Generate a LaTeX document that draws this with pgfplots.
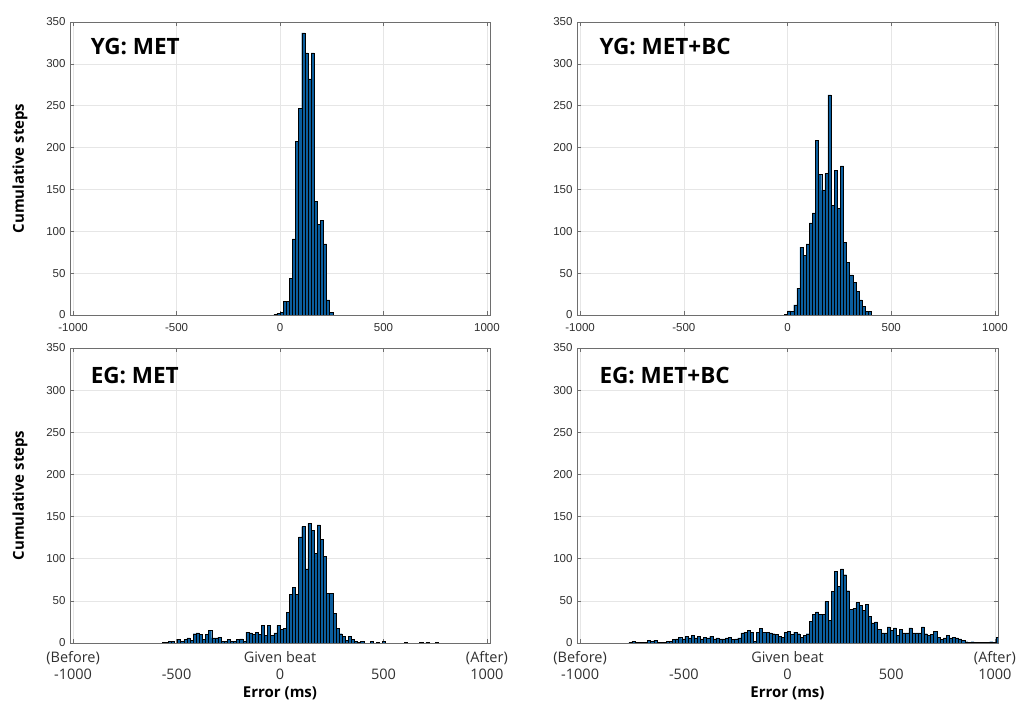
\documentclass[border=0pt]{standalone}
\usepackage{fontspec}
\setmainfont{Liberation Sans}
\newfontfamily\labelf{Open Sans}
\newfontfamily\tickf{Liberation Sans}
\usepackage{pgfplots}
\pgfplotsset{compat=1.18}
\definecolor{barblue}{HTML}{0B5E9E}
\definecolor{gridgray}{HTML}{E6E6E6}
\definecolor{boxgray}{HTML}{6E6E6E}
\definecolor{tickcol}{HTML}{303030}
\tikzset{ttl/.style={anchor=west, font=\labelf\bfseries\fontsize{22.5}{26}\selectfont, inner sep=0pt}}
\pgfplotsset{
  panel/.style={
    scale only axis,
    xmin=-1015, xmax=1015, ymin=0, ymax=350,
    xtick={-1000,-500,0,500,1000},
    ytick={0,50,100,150,200,250,300,350},
    yticklabels={0,50,100,150,200,250,300,350},
    grid=major,
    major grid style={gridgray, line width=0.6pt},
    axis line style={boxgray, line width=0.6pt},
    tick align=inside,
    major tick length=4pt,
    tick style={boxgray, line width=0.5pt},
    yticklabel style={font=\tickf\fontsize{11.5}{13}\selectfont, text=tickcol, xshift=-1pt},
    every axis y label/.style={at={(axis description cs:-0.119,0.5)}, rotate=90, anchor=center,
      font=\labelf\bfseries\fontsize{15}{18}\selectfont},
  },
  toppanel/.style={
    panel,
    xticklabels={-1000,-500,0,500,1000},
    xticklabel style={font=\tickf\fontsize{11.5}{13}\selectfont, text=tickcol, yshift=-4.5pt},
  },
  botpanel/.style={
    panel,
    xticklabels={{\strut(Before)\\-1000},{\strut\\-500},{\strut Given beat\\0},{\strut\\500},{\strut(After)\\1000}},
    xticklabel style={align=center, font=\labelf\fontsize{14.5}{17}\selectfont, text=tickcol, yshift=-4pt},
    every axis x label/.style={at={(axis description cs:0.5,-0.172)}, anchor=center,
      font=\labelf\bfseries\fontsize{15}{18}\selectfont},
  },
  histo/.style={ybar, bar width=15, bar shift=0pt, fill=barblue, draw=black, line width=0.45pt},
}
\begin{document}
\begin{tikzpicture}
\path[use as bounding box] (0pt,0pt) rectangle (1023pt,704pt);
% ---------------- YG: MET
\begin{axis}[toppanel, at={(70pt,389pt)}, anchor=south west, width=420pt, height=293pt,
  ylabel={Cumulative steps}]
\addplot[histo] coordinates {
(-22.5,1) (-7.5,2) (7.5,3) (22.5,16) (37.5,16) (52.5,44) (67.5,91) (82.5,207)
(97.5,247) (112.5,337) (127.5,313) (142.5,282) (157.5,313) (172.5,136) (187.5,108)
(202.5,113) (217.5,85) (232.5,18) (247.5,3)
};
\node[ttl] at (rel axis cs:0.049,0.916) {YG: MET};
\end{axis}
% ---------------- YG: MET+BC
\begin{axis}[toppanel, at={(577pt,389pt)}, anchor=south west, width=421pt, height=293pt]
\addplot[histo] coordinates {
(-7.5,1) (7.5,5) (22.5,4) (37.5,12) (52.5,32) (67.5,81) (82.5,71) (97.5,85)
(112.5,110) (127.5,122) (142.5,209) (157.5,168) (172.5,149) (187.5,169) (202.5,263)
(217.5,131) (232.5,173) (247.5,127) (262.5,178) (277.5,87) (292.5,63) (307.5,48)
(322.5,39) (337.5,28) (352.5,18) (367.5,10) (382.5,4) (397.5,4)
};
\node[ttl] at (rel axis cs:0.053,0.916) {YG: MET+BC};
\end{axis}
% ---------------- EG: MET
\begin{axis}[botpanel, at={(70pt,61pt)}, anchor=south west, width=420pt, height=295pt,
  ylabel={Cumulative steps}, xlabel={Error (ms)}]
\addplot[histo] coordinates {
(-562.5,1) (-547.5,1) (-532.5,2) (-517.5,2) (-487.5,4) (-472.5,2) (-457.5,4)
(-442.5,6) (-427.5,3) (-412.5,11) (-397.5,12) (-382.5,10) (-367.5,4) (-352.5,10)
(-337.5,15) (-322.5,6) (-307.5,6) (-292.5,7) (-277.5,2) (-262.5,2) (-247.5,4)
(-232.5,2) (-217.5,2) (-202.5,4) (-187.5,5) (-172.5,2) (-157.5,13) (-142.5,12)
(-127.5,10) (-112.5,13) (-97.5,10) (-82.5,21) (-67.5,9) (-52.5,21) (-37.5,9)
(-22.5,12) (-7.5,21) (7.5,16) (22.5,17) (37.5,36) (52.5,58) (67.5,66) (82.5,58)
(97.5,126) (112.5,138) (127.5,88) (142.5,142) (157.5,134) (172.5,106) (187.5,140)
(202.5,123) (217.5,103) (232.5,59) (247.5,59) (262.5,35) (277.5,17) (292.5,11)
(307.5,8) (322.5,3) (337.5,8) (352.5,4) (367.5,2) (382.5,1) (397.5,2) (442.5,2)
(472.5,1) (502.5,2) (607.5,1) (682.5,1) (712.5,1) (757.5,1)
};
\node[ttl] at (rel axis cs:0.049,0.908) {EG: MET};
\end{axis}
% ---------------- EG: MET+BC
\begin{axis}[botpanel, at={(577pt,61pt)}, anchor=south west, width=421pt, height=295pt,
  xlabel={Error (ms)}]
\addplot[histo] coordinates {
(-757.5,1) (-742.5,2) (-727.5,1) (-712.5,1) (-697.5,1) (-682.5,1) (-667.5,3)
(-652.5,2) (-637.5,3) (-622.5,1) (-607.5,1) (-592.5,1) (-577.5,2) (-562.5,2)
(-547.5,4) (-532.5,5) (-517.5,7) (-502.5,5) (-487.5,8) (-472.5,6) (-457.5,9)
(-442.5,6) (-427.5,8) (-412.5,5) (-397.5,7) (-382.5,6) (-367.5,8) (-352.5,5)
(-337.5,6) (-322.5,5) (-307.5,5) (-292.5,6) (-277.5,7) (-262.5,4) (-247.5,5)
(-232.5,6) (-217.5,12) (-202.5,13) (-187.5,15) (-172.5,13) (-157.5,2) (-142.5,13)
(-127.5,17) (-112.5,13) (-97.5,13) (-82.5,12) (-67.5,11) (-52.5,10) (-37.5,8)
(-22.5,7) (-7.5,13) (7.5,14) (22.5,10) (37.5,13) (52.5,11) (67.5,7) (82.5,9)
(97.5,11) (112.5,26) (127.5,34) (142.5,37) (157.5,34) (172.5,34) (187.5,49)
(202.5,27) (217.5,61) (232.5,85) (247.5,67) (262.5,88) (277.5,81) (292.5,62)
(307.5,40) (322.5,41) (337.5,48) (352.5,45) (367.5,39) (382.5,46) (397.5,32)
(412.5,24) (427.5,25) (442.5,16) (457.5,12) (472.5,12) (487.5,19) (502.5,15)
(517.5,18) (532.5,9) (547.5,16) (562.5,12) (577.5,12) (592.5,18) (607.5,12)
(622.5,12) (637.5,12) (652.5,19) (667.5,11) (682.5,9) (697.5,10) (712.5,14)
(727.5,7) (742.5,4) (757.5,6) (772.5,9) (787.5,6) (802.5,7) (817.5,6) (832.5,5)
(847.5,3) (862.5,1.5) (877.5,0.5) (892.5,1.5) (907.5,1) (922.5,0.5) (937.5,1)
(952.5,0.5) (967.5,0.5) (982.5,1.5) (997.5,1) (1012.5,7)
};
\node[ttl] at (rel axis cs:0.053,0.908) {EG: MET+BC};
\end{axis}
\end{tikzpicture}
\end{document}
